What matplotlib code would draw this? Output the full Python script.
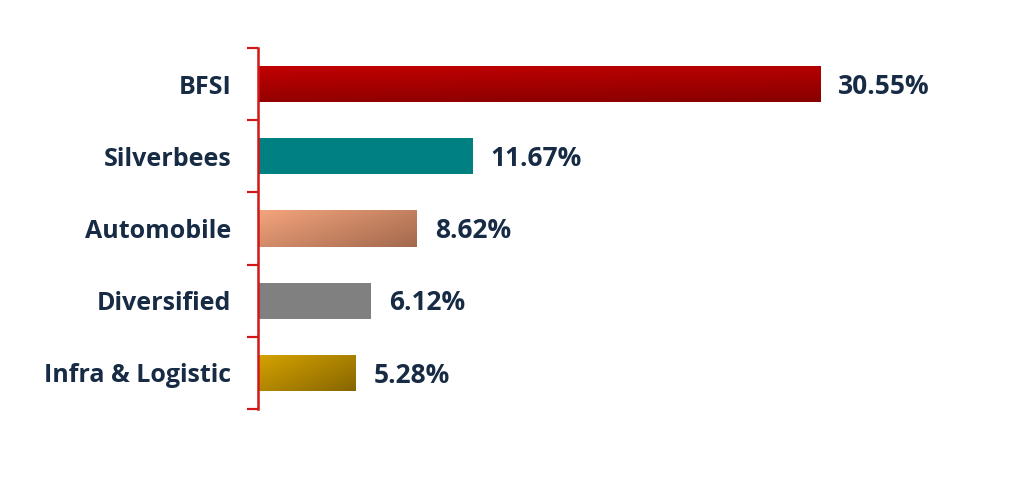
import numpy as np
import matplotlib.pyplot as plt
from matplotlib.colors import LinearSegmentedColormap

sectors = ["BFSI", "Silverbees", "Automobile", "Diversified", "Infra & Logistic"]
weights = [30.55, 11.67, 8.62, 6.12, 5.28]

# start / end colour of each bar fill and how the gradient runs (horizontal, vertical share)
fill_start = ["#c20000", "#008080", "#f4a47c", "#808080", "#d6a300"]
fill_end = ["#880000", "#008080", "#a2694d", "#808080", "#876600"]
grad_dir = [(0.2, 0.8), (0.5, 0.5), (0.6, 0.4), (0.5, 0.5), (0.55, 0.45)]

text_color = "#172b45"
axis_red = "#d01818"

plt.rcParams["font.family"] = ["Open Sans", "DejaVu Sans"]

fig = plt.figure(figsize=(10.24, 4.84), dpi=100)
ax = fig.add_axes([258 / 1024, 75 / 484, 736 / 1024, 361 / 484])

ypos = np.arange(len(sectors))
bars = ax.barh(ypos, weights, height=0.5, color=fill_start, linewidth=0)

u = np.linspace(0, 1, 200)[None, :]
v = np.linspace(0, 1, 50)[:, None]
for bar, c0, c1, (wu, wv) in zip(bars, fill_start, fill_end, grad_dir):
    if c0 == c1:
        continue
    cmap = LinearSegmentedColormap.from_list("g", [c0, c1])
    t = wu * u + wv * v
    x0, y0 = bar.get_x(), bar.get_y()
    w, h = bar.get_width(), bar.get_height()
    img = ax.imshow(t, cmap=cmap, vmin=0, vmax=1, aspect="auto", origin="upper",
                    extent=(x0, x0 + w, y0 + h, y0), interpolation="bilinear", zorder=2)
    img.set_clip_path(bar)

for y, val in zip(ypos, weights):
    ax.annotate(f"{val:.2f}%", xy=(val, y + 0.03), xytext=(13, 0), textcoords="offset points",
                ha="left", va="center", fontsize=19, fontweight="bold", color=text_color)

ax.set_xlim(0, 40)
ax.set_ylim(len(sectors) - 0.5, -0.5)

ax.set_yticks(ypos)
ax.set_yticklabels(sectors, fontsize=18, fontweight="bold", color=text_color)
ax.set_yticks(np.arange(len(sectors) + 1) - 0.5, minor=True)
ax.tick_params(axis="y", which="major", length=0, pad=19)
ax.tick_params(axis="y", which="minor", length=8, width=1.6, color=axis_red)
ax.set_xticks([])

for side in ["top", "right", "bottom"]:
    ax.spines[side].set_visible(False)
ax.spines["left"].set_color(axis_red)
ax.spines["left"].set_linewidth(1.8)

fig.savefig("out.png", dpi=100)
